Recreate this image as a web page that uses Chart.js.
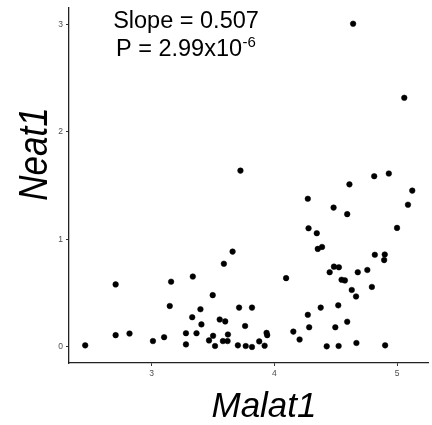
<!DOCTYPE html>
<html>
<head>
<meta charset="utf-8">
<title>Neat1 vs Malat1</title>
<script src="https://cdn.jsdelivr.net/npm/chart.js@4"></script>
<style>
  html, body { margin: 0; padding: 0; background: #fff; }
  #wrap { width: 432px; height: 425px; position: relative; }
</style>
</head>
<body>
<div id="wrap"><canvas id="chartScatter"></canvas></div>
<script>
// Values
const malat1 = [2.459, 2.707, 2.707, 2.820, 3.011, 3.102, 3.159, 3.148, 3.280, 3.280,
  3.336, 3.331, 3.366, 3.398, 3.406, 3.498, 3.468, 3.501, 3.517, 3.555,
  3.589, 3.600, 3.581, 3.619, 3.622, 3.660, 3.724, 3.713, 3.703, 3.762,
  3.767, 3.818, 3.818, 3.877, 3.921, 3.937, 3.942, 4.096, 4.155, 4.206,
  4.273, 4.279, 4.273, 4.284, 4.346, 4.354, 4.389, 4.378, 4.427, 4.451,
  4.483, 4.486, 4.526, 4.497, 4.521, 4.524, 4.548, 4.575, 4.594, 4.594,
  4.612, 4.642, 4.631, 4.666, 4.680, 4.669, 4.758, 4.795, 4.814, 4.819,
  4.895, 4.900, 4.903, 4.933, 5.000, 5.059, 5.089, 5.124];
const neat1 = [0.015, 0.582, 0.110, 0.125, 0.055, 0.091, 0.607, 0.381, 0.128, 0.024,
  0.655, 0.277, 0.128, 0.351, 0.210, 0.482, 0.061, 0.104, 0.009, 0.256,
  0.774, 0.238, 0.055, 0.055, 0.116, 0.887, 1.640, 0.366, 0.015, 0.195,
  0.009, 0.366, 0.000, 0.052, 0.012, 0.131, 0.110, 0.640, 0.143, 0.070,
  1.378, 1.104, 0.299, 0.183, 1.058, 0.912, 0.930, 0.366, 0.006, 0.695,
  1.296, 0.747, 0.741, 0.183, 0.387, 0.009, 0.625, 0.619, 1.235, 0.235,
  1.512, 3.006, 0.530, 0.470, 0.695, 0.037, 0.716, 0.558, 1.588, 0.857,
  0.808, 0.860, 0.015, 1.613, 1.107, 2.317, 1.323, 1.454];
const xTicks = [3, 4, 5];
const yTicks = [0, 1, 2, 3];
const xTitle = 'Malat1';
const yTitle = 'Neat1';
const slopeText = 'Slope = 0.507';
const pText = 'P = 2.99x10';
const pExp = '-6';

const FONT = '"Liberation Sans", Arial, sans-serif';

// Axis titles and the slope / P annotation
const labelsPlugin = {
  id: 'labels',
  afterDraw(chart) {
    const ctx = chart.ctx;
    ctx.save();
    ctx.fillStyle = '#000';

    ctx.font = 'italic 35px ' + FONT;
    ctx.textAlign = 'center';
    ctx.textBaseline = 'alphabetic';
    ctx.fillText(xTitle, 264, 417);

    ctx.save();
    ctx.translate(47, 154);
    ctx.scale(1.15, 1);
    ctx.rotate(-Math.PI / 2);
    ctx.fillText(yTitle, 0, 0);
    ctx.restore();

    ctx.font = '23.5px ' + FONT;
    ctx.textAlign = 'center';
    ctx.fillText(slopeText, 186, 28);
    ctx.textAlign = 'left';
    ctx.fillText(pText, 116, 55.5);
    const w = ctx.measureText(pText).width;
    ctx.font = '15px ' + FONT;
    ctx.fillText(pExp, 116 + w + 0.5, 46.5);
    ctx.restore();
  }
};

const axisCommon = {
  grid: { drawOnChartArea: false, drawTicks: true, tickLength: 3, tickColor: '#333', tickWidth: 1 },
  border: { display: true, color: '#222', width: 1.3 },
  ticks: { color: '#4d4d4d', font: { family: FONT, size: 8.5 }, padding: 3 }
};

new Chart(document.getElementById('chartScatter'), {
  type: 'scatter',
  data: {
    datasets: [{
      data: malat1.map((x, i) => ({ x: x, y: neat1[i] })),
      backgroundColor: '#000',
      borderColor: '#000',
      borderWidth: 0.5,
      pointRadius: 2.8,
      pointHoverRadius: 2.8
    }]
  },
  options: {
    responsive: true,
    maintainAspectRatio: false,
    animation: false,
    layout: { padding: { top: 2, right: 0, left: 0, bottom: 0 } },
    plugins: { legend: { display: false }, tooltip: { enabled: false } },
    scales: {
      x: Object.assign({}, axisCommon, {
        type: 'linear',
        min: 2.327,
        max: 5.258,
        afterBuildTicks: s => { s.ticks = xTicks.map(v => ({ value: v })); },
        afterFit: s => { s.height = 62; }
      }),
      y: Object.assign({}, axisCommon, {
        type: 'linear',
        min: -0.149,
        max: 3.151,
        afterBuildTicks: s => { s.ticks = yTicks.map(v => ({ value: v })); },
        afterFit: s => { s.width = 69; }
      })
    }
  },
  plugins: [labelsPlugin]
});
</script>
</body>
</html>
